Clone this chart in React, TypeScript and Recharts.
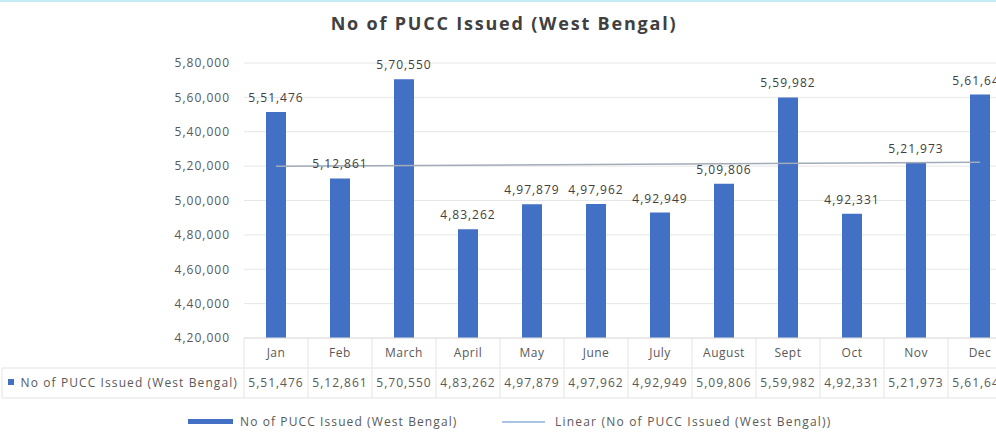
import { ComposedChart, Bar, Line, XAxis, YAxis, CartesianGrid, LabelList } from 'recharts'

const months = ['Jan', 'Feb', 'March', 'April', 'May', 'June', 'July', 'August', 'Sept', 'Oct', 'Nov', 'Dec']
const issued = [551476, 512861, 570550, 483262, 497879, 497962, 492949, 509806, 559982, 492331, 521973, 561640]
// linear trendline end points (Jan and Dec)
const trendEnds = [519900, 522200]
const yTicks = [420000, 440000, 460000, 480000, 500000, 520000, 540000, 560000, 580000]

const seriesName = 'No of PUCC Issued (West Bengal)'
const BLUE = '#4170C4'
const TREND = '#a3abb8'
const FONT = '"Open Sans", "Noto Sans", sans-serif'
const TEXT = '#595959'

const data = months.map((m, i) => ({
    month: m,
    issued: issued[i],
    trend: i === 0 ? trendEnds[0] : i === months.length - 1 ? trendEnds[1] : null,
}))

// 5,51,476 style (Indian grouping)
function fmtIN(n: number) {
    const s = String(Math.round(n))
    if (s.length <= 3) return s
    const last3 = s.slice(-3)
    let rest = s.slice(0, -3)
    const parts: string[] = []
    while (rest.length > 2) {
        parts.unshift(rest.slice(-2))
        rest = rest.slice(0, -2)
    }
    if (rest) parts.unshift(rest)
    return parts.join(',') + ',' + last3
}

// category row + value row of the data table under the plot
function TableTick(props: any) {
    const { x, y, payload, index } = props
    const half = payload && payload.offset ? payload.offset : 32
    const grid = '#e4e4e4'
    const last = index === months.length - 1
    return (
        <g>
            <line x1={x - half} y1={y} x2={x - half} y2={y + 60} stroke={grid} />
            {last && <line x1={x + half} y1={y} x2={x + half} y2={y + 60} stroke={grid} />}
            <line x1={x - half} y1={y + 30} x2={x + half} y2={y + 30} stroke={grid} />
            <line x1={x - half} y1={y + 60} x2={x + half} y2={y + 60} stroke={grid} />
            <text x={x} y={y + 19} textAnchor="middle" fontSize={12} fill={TEXT} fontFamily={FONT} letterSpacing={0.5}>
                {payload.value}
            </text>
            <text x={x} y={y + 49} textAnchor="middle" fontSize={12} fill={TEXT} fontFamily={FONT} letterSpacing={1}>
                {fmtIN(issued[index])}
            </text>
            {index === 0 && (
                <g>
                    <line x1={2} y1={y + 30} x2={x - half} y2={y + 30} stroke={grid} />
                    <line x1={2} y1={y + 60} x2={x - half} y2={y + 60} stroke={grid} />
                    <line x1={2} y1={y + 30} x2={2} y2={y + 60} stroke={grid} />
                    <rect x={8} y={y + 41} width={6} height={6} fill={BLUE} />
                    <text x={x - half - 6} y={y + 49} textAnchor="end" fontSize={12} fill={TEXT} fontFamily={FONT} letterSpacing={1.1}>
                        {seriesName}
                    </text>
                </g>
            )}
        </g>
    )
}

export default function App() {
    return (
        <div style={{ position: 'relative', width: 996, height: 432, overflow: 'hidden', background: '#fff', borderTop: '2px solid #c4ecf4', boxSizing: 'border-box', fontFamily: FONT }}>
            <style>{'body{margin:0}'}</style>
            <div style={{ position: 'absolute', top: 9, left: 0, width: 1008, textAlign: 'center', fontSize: 18, fontWeight: 700, color: '#404040', letterSpacing: 1.8 }}>
                No of PUCC Issued (West Bengal)
            </div>
            <div style={{ position: 'absolute', top: -2, left: 0 }}>
                <ComposedChart width={1020} height={432} data={data} margin={{ top: 63, right: 8, bottom: 32, left: 0 }}>
                    <CartesianGrid vertical={false} stroke="#e6e6e6" />
                    <XAxis
                        dataKey="month"
                        height={62}
                        tickLine={false}
                        tickSize={0}
                        tickMargin={0}
                        axisLine={{ stroke: '#e0e0e0' }}
                        interval={0}
                        tick={<TableTick />}
                    />
                    <YAxis
                        width={244}
                        domain={[420000, 580000]}
                        ticks={yTicks}
                        tickFormatter={fmtIN}
                        axisLine={false}
                        tickLine={false}
                        tickMargin={8}
                        tick={{ fontSize: 12, fill: TEXT, fontFamily: FONT, letterSpacing: 1 }}
                    />
                    <Line
                        dataKey="trend"
                        connectNulls
                        stroke={TREND}
                        strokeWidth={1.5}
                        dot={false}
                        isAnimationActive={false}
                    />
                    <Bar dataKey="issued" fill={BLUE} barSize={20} isAnimationActive={false}>
                        <LabelList
                            dataKey="issued"
                            position="top"
                            offset={10}
                            formatter={(v: any) => fmtIN(Number(v))}
                            style={{ fontSize: 12, fill: '#404040', fontFamily: FONT, letterSpacing: 1 }}
                        />
                    </Bar>
                </ComposedChart>
            </div>
            {/* legend */}
            <div style={{ position: 'absolute', top: 411, left: 188, display: 'flex', alignItems: 'center', fontSize: 12, color: TEXT, letterSpacing: 1.1 }}>
                <span style={{ display: 'inline-block', width: 45, height: 5, background: BLUE, marginRight: 7 }} />
                {seriesName}
            </div>
            <div style={{ position: 'absolute', top: 411, left: 502, display: 'flex', alignItems: 'center', fontSize: 12, color: TEXT, letterSpacing: 1.2 }}>
                <span style={{ display: 'inline-block', width: 43, height: 2, background: '#a9c4e4', marginRight: 10 }} />
                {'Linear (' + seriesName + ')'}
            </div>
        </div>
    )
}
